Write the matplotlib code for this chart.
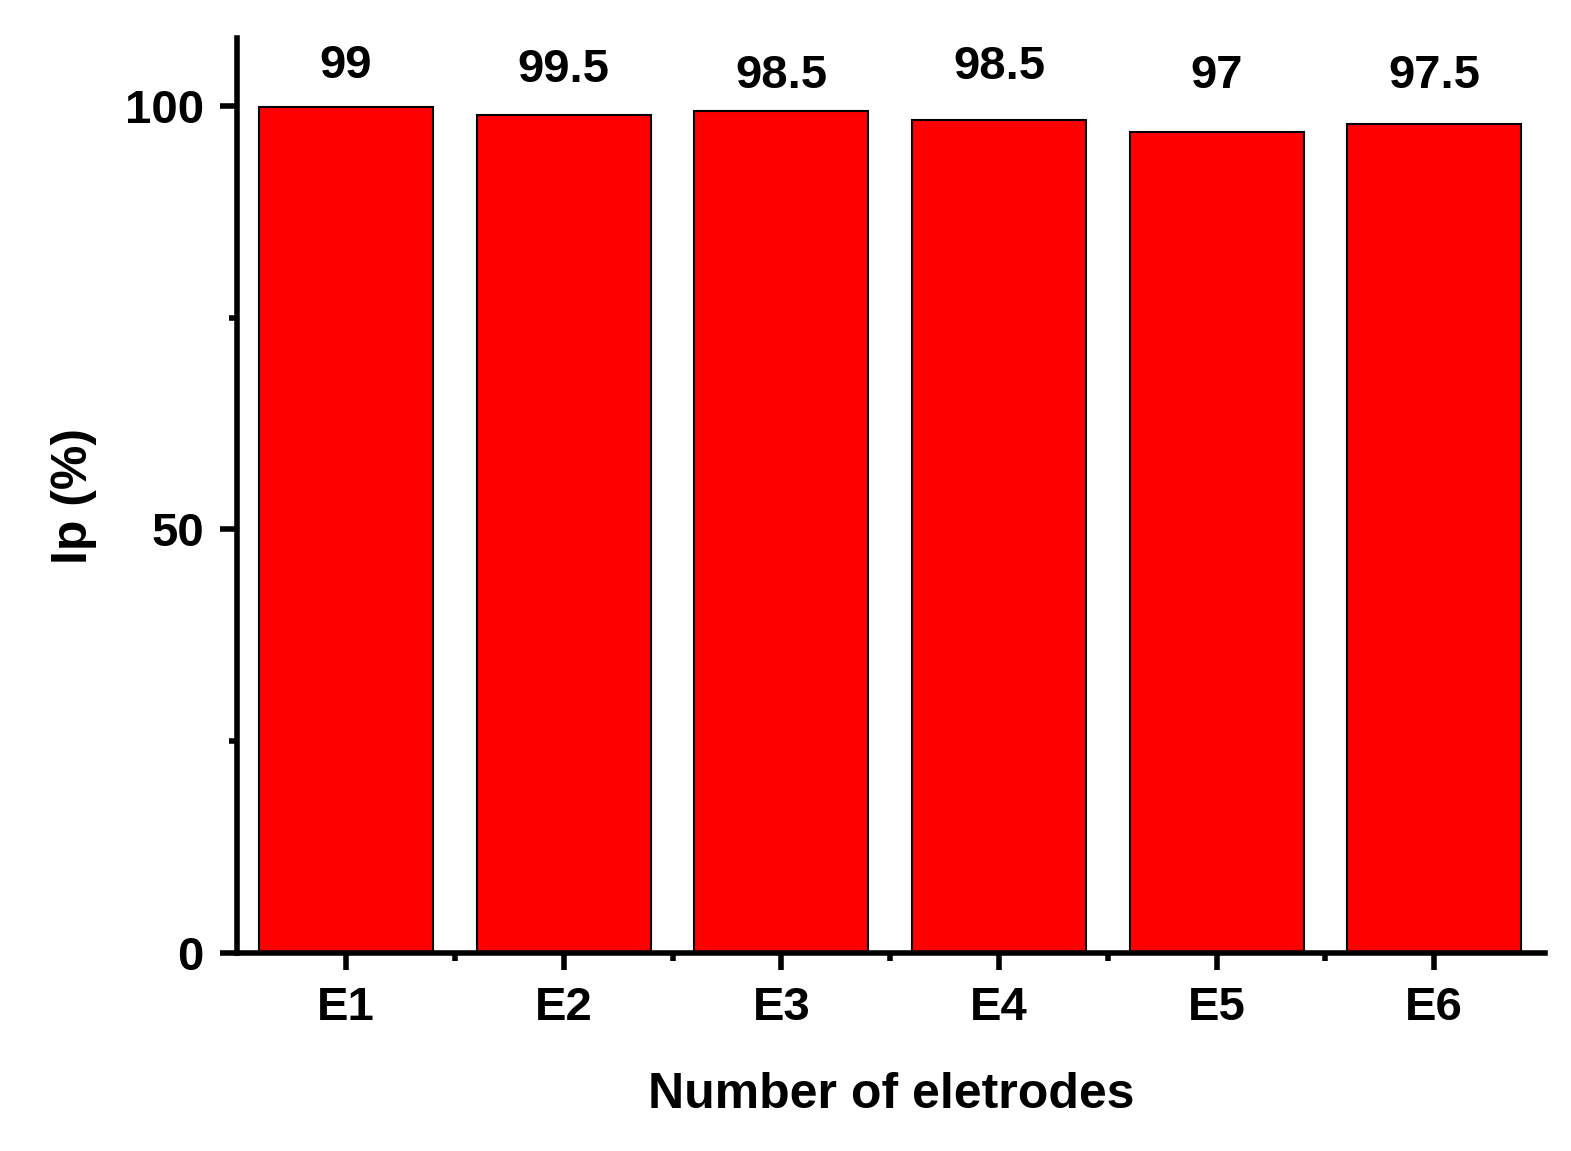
import numpy as np
import matplotlib.pyplot as plt
from matplotlib.ticker import MultipleLocator

plt.rcParams['font.family'] = ['Liberation Sans', 'DejaVu Sans']
plt.rcParams['font.weight'] = 'bold'

# Data
electrodes = ["E1", "E2", "E3", "E4", "E5", "E6"]
heights = [99.9, 98.9, 99.4, 98.3, 96.9, 97.9]
labels = ["99", "99.5", "98.5", "98.5", "97", "97.5"]
label_offsets = [3.4, 3.9, 2.7, 4.8, 5.2, 4.2]

fig = plt.figure(figsize=(15.71, 11.51), dpi=100)
ax = fig.add_axes([0.151, 0.172, 0.8326, 0.795])

x = np.arange(len(electrodes))
ax.bar(x, heights, width=0.8, color="#ff0000", edgecolor="black", linewidth=1.5)
for xi, h, lab, off in zip(x, heights, labels, label_offsets):
    ax.text(xi, h + off, lab, ha="center", va="baseline", fontsize=34, fontweight="bold")

ax.set_xlim(-0.5, 5.51)
ax.set_ylim(0, 108)
ax.set_xticks(x)
ax.set_xticklabels(electrodes)
ax.xaxis.set_minor_locator(plt.FixedLocator(x[:-1] + 0.5))
ax.set_yticks([0, 50, 100])
ax.yaxis.set_minor_locator(MultipleLocator(25))

for s in ["top", "right"]:
    ax.spines[s].set_visible(False)
for s in ["left", "bottom"]:
    ax.spines[s].set_linewidth(4)
ax.tick_params(which="major", length=12, width=4, labelsize=34, pad=12)
ax.tick_params(which="minor", length=6, width=4)
for t in ax.get_xticklabels() + ax.get_yticklabels():
    t.set_fontweight("bold")

ax.set_xlabel("Number of eletrodes", fontsize=36, fontweight="bold", labelpad=30)
ax.set_ylabel("Ip (%)", fontsize=36, fontweight="bold", labelpad=20)

fig.savefig("out.png", dpi=100)
